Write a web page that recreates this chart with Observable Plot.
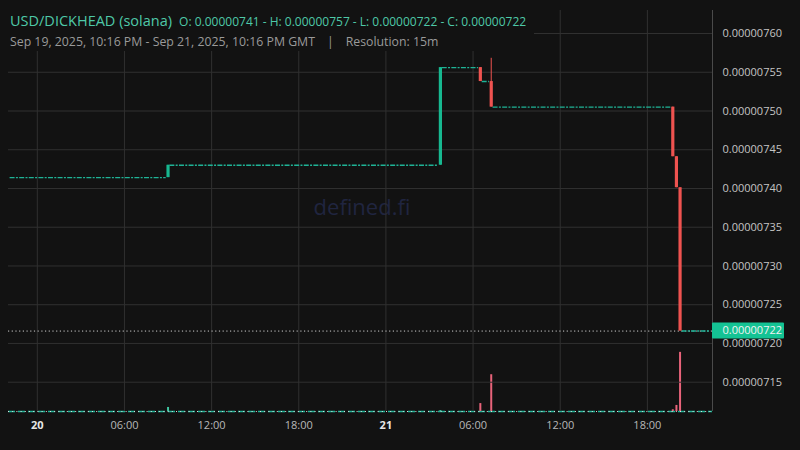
<!DOCTYPE html>
<html><head><meta charset="utf-8">
<script src="https://cdn.jsdelivr.net/npm/d3@7"></script>
<script src="https://cdn.jsdelivr.net/npm/@observablehq/plot@0.6"></script>
<style>
body{margin:0;background:#121212;}
#wrap{position:relative;width:800px;height:450px;background:#121212;font-family:"Open Sans",sans-serif;overflow:hidden}
#wrap svg{position:absolute;left:0;top:0}
#header{position:absolute;left:0;top:0;width:534px;height:51px;background:#121212;z-index:5}
#title{position:absolute;left:10px;top:9px;white-space:nowrap;color:#4ec9a8}
#title .name{font-size:14.5px}
#title .ohlc{font-size:12px;margin-left:4px}
#sub{position:absolute;left:10px;top:33px;white-space:nowrap;color:#9a9a9a;font-size:12.3px}
#sub .sep{margin:0 12px}
#wm{position:absolute;left:0;width:724px;top:191px;text-align:center;color:#202540;font-size:22px;z-index:1}
</style></head>
<body>
<div id="wrap">
  <div id="wm">defined.fi</div>
  <div id="header">
    <div id="title"><span class="name">USD/DICKHEAD (solana)</span><span class="ohlc"> O: 0.00000741 - H: 0.00000757 - L: 0.00000722 - C: 0.00000722</span></div>
    <div id="sub">Sep 19, 2025, 10:16 PM - Sep 21, 2025, 10:16 PM GMT<span class="sep">|</span>Resolution: 15m</div>
  </div>
</div>
<script>
// ---- data ----
const candleTimes = ["2025-09-20T09:00Z","2025-09-21T03:45Z","2025-09-21T06:30Z","2025-09-21T07:15Z","2025-09-21T19:45Z","2025-09-21T20:00Z","2025-09-21T20:15Z"];
const opens   = [7.414e-6, 7.430e-6, 7.556e-6, 7.538e-6, 7.505e-6, 7.441e-6, 7.401e-6];
const highs   = [7.430e-6, 7.556e-6, 7.556e-6, 7.568e-6, 7.505e-6, 7.441e-6, 7.401e-6];
const lows    = [7.414e-6, 7.430e-6, 7.538e-6, 7.505e-6, 7.441e-6, 7.401e-6, 7.216e-6];
const closes  = [7.430e-6, 7.556e-6, 7.538e-6, 7.505e-6, 7.441e-6, 7.401e-6, 7.216e-6];
const volumes = [28, 6, 55, 255, 12, 42, 410];

const flatStarts = ["2025-09-19T22:15Z","2025-09-20T09:15Z","2025-09-21T04:00Z","2025-09-21T06:45Z","2025-09-21T07:30Z","2025-09-21T20:30Z"];
const flatEnds   = ["2025-09-20T08:45Z","2025-09-21T03:30Z","2025-09-21T06:15Z","2025-09-21T07:00Z","2025-09-21T19:30Z","2025-09-21T22:15Z"];
const flatPrices = [7.414e-6, 7.430e-6, 7.556e-6, 7.538e-6, 7.505e-6, 7.216e-6];

const yTicks = [7.15e-6, 7.20e-6, 7.25e-6, 7.30e-6, 7.35e-6, 7.40e-6, 7.45e-6, 7.50e-6, 7.55e-6, 7.60e-6];
const dayTicks = ["2025-09-20T00:00Z","2025-09-21T00:00Z"];
const dayLabels = ["20","21"];
const hourTicks = ["2025-09-20T06:00Z","2025-09-20T12:00Z","2025-09-20T18:00Z","2025-09-21T06:00Z","2025-09-21T12:00Z","2025-09-21T18:00Z"];
const hourLabels = ["06:00","12:00","18:00","06:00","12:00","18:00"];
const lastPrice = 7.216e-6;
const lastPriceLabel = "0.00000722";

// ---- build ----
const candles = candleTimes.map((t,i)=>({t:new Date(t),o:opens[i],h:highs[i],l:lows[i],c:closes[i],v:volumes[i]}));
const flats = flatStarts.map((s,i)=>({x1:new Date(s),x2:new Date(flatEnds[i]),y:flatPrices[i]}));
const xDomain = [new Date("2025-09-19T22:01Z"), new Date("2025-09-21T22:29Z")];
const W=800,H=450,ML=8,MR=88,MT=10,MB=39;
const GREEN="#17b890", RED="#ef5350", FLAT="#1fb396", GRID="#303030";
const labelMap = new Map();
dayTicks.forEach((d,i)=>labelMap.set(+new Date(d), dayLabels[i]));
hourTicks.forEach((d,i)=>labelMap.set(+new Date(d), hourLabels[i]));
const fmtX = d => labelMap.get(+d);
const dayDates = dayTicks.map(d=>new Date(d)), hourDates = hourTicks.map(d=>new Date(d));

const common = {width:W,height:H,marginLeft:ML,marginRight:MR,marginTop:MT,marginBottom:MB,
  x:{type:"utc",domain:xDomain,axis:null}};

const chart = Plot.plot({
  ...common,
  style:{background:"transparent",fontFamily:"Open Sans, sans-serif",fontSize:"11px"},
  y:{domain:[7.1122e-6,7.6297e-6],axis:null},
  marks:[
    Plot.gridY(yTicks,{stroke:GRID,strokeOpacity:1}),
    Plot.gridX([...dayDates,...hourDates],{stroke:GRID,strokeOpacity:1}),
    Plot.ruleY([lastPrice],{stroke:"#cfcfcf",strokeDasharray:"1.2,2.5",strokeWidth:1}),
    Plot.ruleY(flats,{x1:"x1",x2:"x2",y:"y",stroke:FLAT,strokeWidth:1.4,strokeDasharray:"5,1.3,2,1.3",insetLeft:-1.8,insetRight:-1.8}),
    Plot.ruleX(candles,{x:"t",y1:"l",y2:"h",stroke:d=>d.c>=d.o?GREEN:RED,strokeWidth:1}),
    Plot.ruleX(candles,{x:"t",y1:"o",y2:"c",stroke:d=>d.c>=d.o?GREEN:RED,strokeWidth:3.2}),
    Plot.ruleX([xDomain[1]],{stroke:"#4a4a4a"}),
    Plot.axisY(yTicks,{anchor:"right",tickSize:0,tickPadding:10,tickFormat:d=>d.toFixed(8),fill:"#c4c4c4",label:null}),
    Plot.axisX(dayDates,{tickSize:0,tickPadding:10,tickFormat:fmtX,fill:"#e6e6e6",fontWeight:"bold",label:null}),
    Plot.axisX(hourDates,{tickSize:0,tickPadding:10,tickFormat:fmtX,fill:"#b8b8b8",label:null})
  ]
});

const vol = Plot.plot({
  ...common,
  style:{background:"transparent"},
  y:{domain:[0,2780],axis:null},
  marks:[
    Plot.ruleY([0],{stroke:FLAT,strokeWidth:1.4,strokeDasharray:"7,3"}),
    Plot.ruleY([0],{stroke:"#dddddd",strokeWidth:1,strokeDasharray:"1,3.2"}),
    Plot.ruleX(candles,{x:"t",y1:0,y2:"v",stroke:d=>d.c>=d.o?"#3fc4a0":"#e8637a",strokeWidth:2})
  ]
});

const wrap = document.getElementById("wrap");
wrap.appendChild(vol);
wrap.appendChild(chart);
chart.style.zIndex = 2; vol.style.zIndex = 2;

// last-price label on the right axis
const yc = chart.scale("y").apply(lastPrice);
const g = d3.select(chart).append("g");
g.append("rect").attr("x",W-MR).attr("y",yc-8).attr("width",72).attr("height",16).attr("rx",1).attr("fill","#14c394");
g.append("text").attr("x",W-MR+10.5).attr("y",yc).attr("dy","0.35em").attr("text-anchor","start").attr("fill","#f2f2f2")
  .attr("font-size","11px").attr("font-family","Open Sans, sans-serif").text(lastPriceLabel);
</script>
</body></html>
